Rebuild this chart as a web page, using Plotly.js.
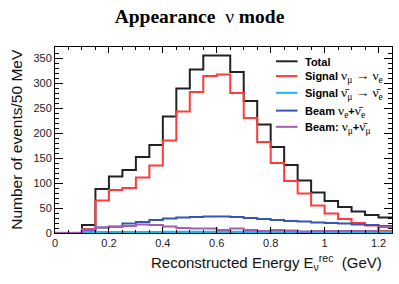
<!DOCTYPE html>
<html><head><meta charset="utf-8">
<script src="https://cdn.plot.ly/plotly-3.0.1.min.js"></script>
<style>html,body{margin:0;padding:0;background:#fff}#chart{width:399px;height:284px}</style>
</head><body><div id="chart"></div>
<script>
// Bin edges (GeV), 50 MeV bins
const binEdges = [0,0.05,0.1,0.15,0.2,0.25,0.3,0.35,0.4,0.45,0.5,0.55,0.6,0.65,0.7,0.75,0.8,0.85,0.9,0.95,1.0,1.05,1.1,1.15,1.2,1.25];
// Events per bin
const totalEvents  = [0,0,16,88,113,126,152,176,233,289,327,355,355,322,264,217,172,136,105,81,64,52,43,36,31];
const signalNuMuE  = [0,0,8,65,86,90,111,135,185,243,282,314,317,280,230,182,140,104,79,55,39,28,20,15,4];
const signalAntiNu = [0,0,0.5,1.5,1.5,1.5,1.5,1.5,2,2,2,2,2,2,2,2,2,2,2,2,2,2,2,2,2];
const beamNuE      = [0,0,5,11,13,19,22,26,29,31,32,33,33,32,30,28,26,24,23,21,20,19,17,16,14];
const beamNuMu     = [0,0,7,11,12,14,17,16,13,10,9,9,6,9,6,4,6,5,3,4,4,4,4,4,12];

const seriesNames = ['Total','Signal νμ→νe','Signal anti-νμ→anti-νe','Beam νe+anti-νe','Beam: νμ+anti-νμ'];
const seriesColors = ['#222222','#ff3b3b','#1cb8ea','#3556b3','#a45cb4'];
const seriesData = [totalEvents, signalNuMuE, signalAntiNu, beamNuE, beamNuMu];

function stepTrace(vals, color, name, width){
  return {x: binEdges, y: vals.concat([vals[vals.length-1]]), type:'scatter', mode:'lines',
    line:{shape:'hv', color:color, width:width}, name:name, showlegend:false, hoverinfo:'skip'};
}
// draw order bottom -> top
const order = [0,1,2,3,4];
const traces = order.map(i => stepTrace(seriesData[i], seriesColors[i], seriesNames[i], i===2?2.5:2));

const serif = 'font-family:Liberation Serif;font-weight:normal;font-size:13.5px';
const bar = '\u0304';
const legendTexts = [
  '<b>Total</b>',
  '<b>Signal</b> <span style="'+serif+'">ν<sub>μ</sub> → ν<sub>e</sub></span>',
  '<b>Signal</b> <span style="'+serif+'">ν'+bar+'<sub>μ</sub> → ν'+bar+'<sub>e</sub></span>',
  '<b>Beam</b> <span style="'+serif+'">ν<sub>e</sub></span><b>+</b><span style="'+serif+'">ν'+bar+'<sub>e</sub></span>',
  '<b>Beam:</b> <span style="'+serif+'">ν<sub>μ</sub></span><b>+</b><span style="'+serif+'">ν'+bar+'<sub>μ</sub></span>'
];
const rowY = [61.5, 76.3, 93, 110.8, 127];   // pixel rows of legend
const L = 55, R = 392, T = 46.7, B = 232.7;
const px2x = p => (p - L)/(R - L);
const px2y = p => (B - p)/(B - T);

const annotations = legendTexts.map((t,i) => ({
  text:t, xref:'paper', yref:'paper', x:px2x(303), y:px2y(rowY[i]), xanchor:'left', yanchor:'middle',
  showarrow:false, font:{family:'Liberation Sans', size:11, color:'#000'}
}));
annotations.push({
  text:'Reconstructed Energy E<sub>ν</sub><sup>rec</sup>\u00a0\u00a0(GeV)', xref:'paper', yref:'paper',
  x:px2x(384), y:px2y(262), xanchor:'right', yanchor:'middle', showarrow:false,
  font:{family:'Liberation Sans', size:15, color:'#111'}
});
annotations.push({
  text:'Number of events/50 MeV', xref:'paper', yref:'paper', textangle:-90,
  x:px2x(17), y:px2y(139.5), xanchor:'center', yanchor:'middle', showarrow:false,
  font:{family:'Liberation Sans', size:15.5, color:'#111'}
});

const shapes = seriesColors.map((c,i) => ({
  type:'line', xref:'paper', yref:'paper', x0:px2x(276), x1:px2x(297.5),
  y0:px2y(rowY[i]-0.5), y1:px2y(rowY[i]-0.5), line:{color:c, width:2}
}));

const axisCommon = {ticks:'inside', tickcolor:'#000', tickwidth:1, showline:true, linecolor:'#000', linewidth:1,
  mirror:'allticks', showgrid:false, zeroline:false, fixedrange:true,
  tickfont:{family:'Liberation Sans', size:11, color:'#222'}};

const layout = {
  width:399, height:284, margin:{l:L, r:399-R, t:T, b:284-B, pad:0},
  paper_bgcolor:'#fff', plot_bgcolor:'#fff', showlegend:false,
  font:{family:'Liberation Sans'},
  title:{text:'<b>Appearance\u00a0\u00a0</b>ν<b>\u00a0mode</b>', font:{family:'Liberation Serif', size:19.5, color:'#000'},
    x:0.5, xanchor:'center', xref:'container', y:1-16.5/284, yanchor:'middle', yref:'container'},
  xaxis:Object.assign({}, axisCommon, {range:[0,1.25], tick0:0, dtick:0.2, ticklen:6,
    minor:{ticks:'inside', dtick:0.05, tick0:0, ticklen:3, tickcolor:'#000', showgrid:false}}),
  yaxis:Object.assign({}, axisCommon, {range:[0,372], tick0:0, dtick:50, ticklen:8,
    minor:{ticks:'inside', dtick:10, tick0:0, ticklen:4, tickcolor:'#000', showgrid:false}}),
  annotations:annotations, shapes:shapes
};
Plotly.newPlot('chart', traces, layout, {displayModeBar:false, staticPlot:true});
</script></body></html>
